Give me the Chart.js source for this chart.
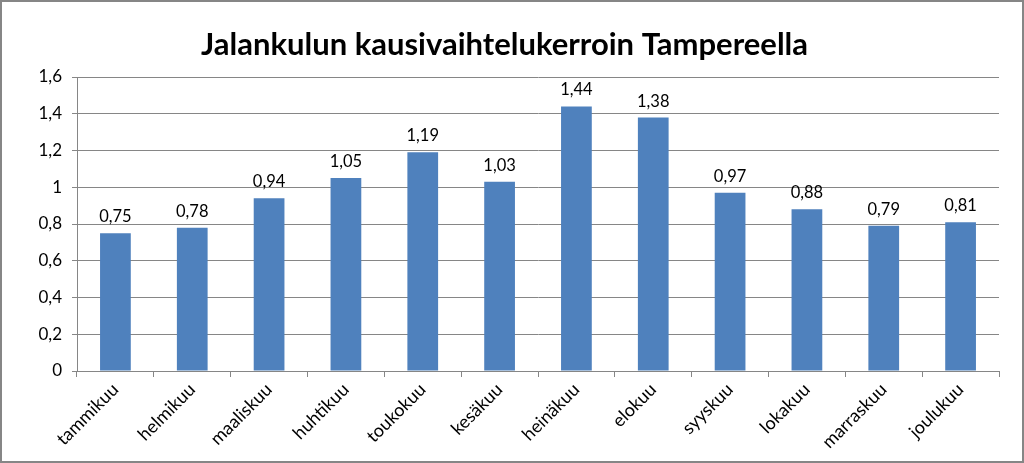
<!DOCTYPE html>
<html><head><meta charset="utf-8">
<script src="https://cdn.jsdelivr.net/npm/chart.js@4"></script>
<style>html,body{margin:0;padding:0;background:#fff}#wrap{width:1024px;height:463px;position:relative}</style>
</head><body><div id="wrap"><canvas id="c" width="1024" height="463"></canvas></div>
<script>
const categories = ['tammikuu','helmikuu','maaliskuu','huhtikuu','toukokuu','kesäkuu','heinäkuu','elokuu','syyskuu','lokakuu','marraskuu','joulukuu'];
const values = [0.75, 0.78, 0.94, 1.05, 1.19, 1.03, 1.44, 1.38, 0.97, 0.88, 0.79, 0.81];
const yTicks = [0, 0.2, 0.4, 0.6, 0.8, 1, 1.2, 1.4, 1.6];
const titleText = 'Jalankulun kausivaihtelukerroin Tampereella';
const FONT = 'Lato, "Open Sans", sans-serif';
const fmt = v => String(v).replace('.', ',');

const frame = {
  id: 'frame',
  afterDraw(chart) {
    const c = chart.ctx;
    c.save();
    c.strokeStyle = '#868686';
    c.lineWidth = 2;
    c.strokeRect(1, 1, chart.width - 2, chart.height - 2);
    c.restore();
  }
};
const labels = {
  id: 'labels',
  afterDatasetsDraw(chart) {
    const c = chart.ctx;
    const meta = chart.getDatasetMeta(0);
    c.save();
    c.font = '16.5px ' + FONT;
    c.fillStyle = '#000';
    c.textAlign = 'center';
    c.textBaseline = 'bottom';
    meta.data.forEach((bar, i) => {
      c.fillText(fmt(values[i]), bar.x, bar.y - 8);
    });
    c.restore();
  }
};

new Chart(document.getElementById('c'), {
  type: 'bar',
  data: { labels: categories, datasets: [{ data: values, backgroundColor: '#4F81BD', borderWidth: 0, barPercentage: 0.4, categoryPercentage: 1 }] },
  options: {
    responsive: false, animation: false,
    layout: { padding: { left: 10, right: 25, top: 0, bottom: 2 } },
    plugins: {
      legend: { display: false }, tooltip: { enabled: false },
      title: { display: true, text: titleText, color: '#000', font: { family: FONT, size: 31, weight: 'bold' }, padding: { top: 26.5, bottom: 13.3 } }
    },
    scales: {
      x: {
        grid: { display: true, drawOnChartArea: false, color: '#868686', tickLength: 6, offset: true },
        border: { color: '#868686' },
        ticks: { color: '#000', font: { family: FONT, size: 18 }, minRotation: 45, maxRotation: 45, padding: 2 },
        afterFit(s) { s.height = 90; }
      },
      y: {
        min: 0, max: 1.6,
        afterBuildTicks(s) { s.ticks = yTicks.map(v => ({ value: v })); },
        grid: { color: '#868686', tickLength: 5 },
        border: { color: '#868686' },
        ticks: { color: '#000', font: { family: FONT, size: 17 }, padding: 10, callback: v => fmt(v) },
        afterFit(s) { s.width = 67; }
      }
    }
  },
  plugins: [frame, labels]
});
</script></body></html>
